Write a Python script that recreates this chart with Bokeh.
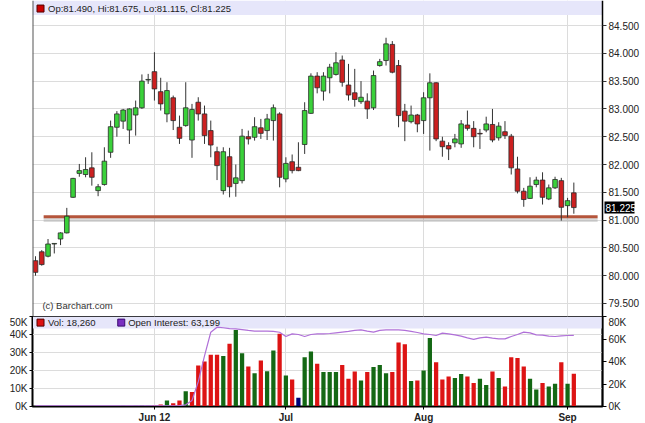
from bokeh.plotting import figure
from bokeh.models import (Range1d, LinearAxis, FixedTicker, PrintfTickFormatter,
                          Label, BoxAnnotation, ColumnDataSource, Span)
from bokeh.layouts import column
from bokeh.embed import file_html
from bokeh.resources import INLINE
from bokeh.core.properties import value

# ---------------- data ----------------
opens = [80.27, 80.43, 80.35, 80.57, 80.66, 80.77, 81.41, 81.84, 81.82, 81.94,
         81.53, 81.64, 82.22, 82.67, 82.78, 82.62, 82.89, 83.02, 83.52, 83.67,
         83.31, 82.91, 83.20, 82.67, 82.70, 82.44, 83.12, 82.91, 82.61, 82.23,
         81.53, 82.14, 81.66, 81.71, 82.50, 82.49, 82.66, 82.61, 82.79, 82.91,
         81.74, 82.05, 81.95, 82.36, 82.92, 83.59, 83.32, 83.56, 83.62, 83.88,
         83.43, 83.29, 83.13, 83.14, 83.02, 83.78, 83.87, 84.16, 83.78, 82.96,
         82.77, 82.89, 82.79, 83.20, 83.47, 82.42, 82.34, 82.39, 82.37, 82.71,
         82.65, 82.56, 82.62, 82.72, 82.48, 82.59, 82.51, 81.92, 81.52, 81.39,
         81.64, 81.72, 81.38, 81.58, 81.71, 81.26, 81.490]
highs = [80.35, 80.46, 80.66, 80.58, 80.78, 81.22, 81.76, 82.01, 82.13, 82.22,
         81.65, 82.31, 82.79, 82.96, 83.00, 83.01, 83.15, 83.62, 83.63, 84.02,
         83.56, 83.48, 83.24, 82.88, 83.48, 83.09, 83.21, 83.06, 82.79, 82.32,
         82.31, 82.30, 82.00, 82.64, 82.61, 82.85, 82.82, 82.91, 83.08, 82.94,
         82.13, 82.18, 82.40, 83.12, 83.64, 83.66, 83.66, 83.81, 84.02, 83.96,
         83.81, 83.72, 83.50, 83.28, 83.69, 83.90, 84.28, 84.22, 83.88, 83.09,
         83.06, 82.91, 83.30, 83.64, 83.48, 82.50, 82.40, 82.55, 82.80, 82.97,
         82.78, 82.64, 82.86, 83.00, 82.76, 82.78, 82.55, 82.14, 81.58, 81.77,
         81.78, 81.86, 81.64, 81.78, 81.76, 81.40, 81.675]
lows = [80.00, 80.18, 80.33, 80.40, 80.55, 80.76, 81.40, 81.78, 81.77, 81.62,
        81.43, 81.62, 82.12, 82.50, 82.64, 82.37, 82.52, 83.00, 83.45, 83.15,
        82.97, 82.76, 82.62, 82.37, 82.68, 82.12, 82.79, 82.37, 82.13, 81.72,
        81.46, 81.41, 81.42, 81.66, 82.36, 82.43, 82.46, 82.44, 82.43, 81.59,
        81.68, 81.84, 81.88, 82.19, 82.91, 83.28, 83.15, 83.28, 83.60, 83.40,
        83.15, 83.04, 83.09, 82.82, 82.98, 83.76, 83.78, 83.64, 82.67, 82.42,
        82.74, 82.58, 82.55, 82.25, 82.42, 82.14, 82.08, 82.31, 82.30, 82.61,
        82.31, 82.28, 82.58, 82.40, 82.43, 82.46, 81.82, 81.48, 81.24, 81.38,
        81.59, 81.28, 81.36, 81.56, 80.99, 81.05, 81.115]
closes = [80.06, 80.20, 80.57, 80.58, 80.77, 81.07, 81.75, 81.89, 81.91, 81.77,
          81.60, 82.06, 82.68, 82.91, 82.98, 83.00, 83.02, 83.50, 83.53, 83.36,
          83.09, 83.33, 82.79, 82.47, 83.02, 82.99, 82.91, 82.52, 82.35, 81.98,
          82.23, 81.60, 81.76, 82.51, 82.46, 82.68, 82.56, 82.82, 83.02, 81.77,
          82.02, 81.89, 81.89, 82.97, 83.59, 83.38, 83.59, 83.75, 83.83, 83.48,
          83.25, 83.17, 83.21, 83.00, 83.60, 83.85, 84.17, 83.66, 82.88, 82.78,
          82.89, 82.73, 83.20, 83.47, 82.46, 82.32, 82.28, 82.46, 82.73, 82.65,
          82.50, 82.55, 82.73, 82.44, 82.69, 82.52, 81.94, 81.52, 81.37, 81.61,
          81.72, 81.41, 81.58, 81.73, 81.23, 81.35, 81.225]
volume_k = [0, 0, 0, 0, 0, 0, 0, 0, 0, 0,
            0, 0, 0, 0.3, 0.4, 0.3, 0.4, 0.5, 0.4, 0.6,
            1.1, 3.3, 1.8, 3.3, 8.5, 8.0, 22.8, 25.0, 28.7, 28.7,
            28.0, 34.9, 42.5, 29.6, 22.2, 18.5, 25.6, 19.6, 31.1, 40.4,
            17.2, 15.0, 4.8, 27.4, 30.6, 23.7, 19.1, 19.1, 19.1, 23.1,
            15.4, 19.4, 14.4, 19.1, 21.9, 23.1, 18.5, 19.1, 35.6, 34.6,
            14.1, 14.4, 20.0, 38.0, 24.6, 15.0, 16.7, 15.9, 18.0, 16.7,
            13.1, 15.4, 12.0, 19.4, 15.9, 11.1, 27.4, 26.9, 22.2, 15.4,
            9.4, 13.1, 11.1, 12.6, 24.6, 12.6, 18.26]
open_interest_k = [0.5, 0.5, 0.5, 0.5, 0.5, 0.5, 0.5, 0.5, 0.5, 0.5,
                   0.5, 0.5, 0.5, 0.5, 0.5, 0.5, 0.5, 0.5, 0.5, 0.5,
                   0.5, 0.5, 0.5, 0.7, 1.5, 5.3, 22.0, 45.0, 66.0, 70.5,
                   70.0, 69.3, 69.0, 68.4, 67.6, 67.0, 67.0, 67.0, 66.7, 66.0,
                   62.2, 64.6, 64.0, 62.2, 64.0, 64.6, 64.6, 64.9, 65.5, 66.1,
                   66.7, 67.6, 68.1, 67.0, 66.1, 67.6, 68.1, 68.1, 68.1, 67.6,
                   66.7, 65.8, 64.6, 64.0, 63.1, 65.2, 64.6, 63.7, 62.5, 61.0,
                   59.6, 61.0, 61.6, 60.7, 60.1, 60.1, 62.2, 64.0, 66.1, 65.5,
                   63.7, 63.4, 62.5, 62.2, 62.8, 63.1, 63.199]

date_tick_index = [19, 40, 62, 85]
date_tick_labels = ["Jun 12", "Jul", "Aug", "Sep"]
price_ticks = [79.5, 80.0, 80.5, 81.0, 81.5, 82.0, 82.5, 83.0, 83.5, 84.0, 84.5]
vol_ticks = [0, 10, 20, 30, 40, 50]
oi_ticks = [0, 20, 40, 60, 80]
support_level = 81.06
support_from, support_to = 1.3, 89.8

# ---------------- styling ----------------
X_START, X_END = -0.48, 90.58
PRICE_MIN, PRICE_MAX = 79.266, 84.95
FRAME_LEFT, FRAME_W, FRAME_H = 32, 570, 316
AXIS_STRIP = 43                      # px of the price panel right of the plot area
PX_PER_BAR = FRAME_W / (X_END - X_START)
X_FRAME_END = X_END + AXIS_STRIP / PX_PER_BAR
FONT = "Liberation Sans"
GREEN, RED = "#3ad13a", "#cc2020"
VGREEN, VRED, VBLUE = "#146814", "#dd1414", "#000078"
LAVENDER = "#e6e6fa"
GRID = "#dcdcdc"

idx = list(range(len(closes)))
body_top = [max(o, c) for o, c in zip(opens, closes)]
body_bot = [min(o, c) for o, c in zip(opens, closes)]
body_col = [GREEN if c >= o else RED for o, c in zip(opens, closes)]
vcol = []
for i, c in enumerate(closes):
    prev = closes[i - 1] if i > 0 else c
    vcol.append(VGREEN if c > prev else (VRED if c < prev else VBLUE))

src = ColumnDataSource(dict(x=idx, o=opens, h=highs, l=lows, c=closes,
                            bt=body_top, bb=body_bot, col=body_col,
                            vol=volume_k, vcol=vcol, oi=open_interest_k))

# ---------------- price panel ----------------
p = figure(frame_width=FRAME_W + AXIS_STRIP, frame_height=FRAME_H,
           x_range=Range1d(X_START, X_FRAME_END),
           y_range=Range1d(PRICE_MIN, PRICE_MAX),
           x_axis_location=None, y_axis_location=None,
           output_backend="svg", toolbar_location=None,
           min_border_left=FRAME_LEFT, min_border_right=0, min_border_top=0, min_border_bottom=0)
p.outline_line_color = None
p.background_fill_color = "white"
p.border_fill_color = "white"
p.xgrid.ticker = FixedTicker(ticks=date_tick_index)
p.ygrid.ticker = FixedTicker(ticks=price_ticks)
p.xgrid.grid_line_color = GRID
p.ygrid.grid_line_color = GRID

band = BoxAnnotation(bottom=PRICE_MAX - 0.26, right=X_END, fill_color=LAVENDER, fill_alpha=1.0,
                     line_color=None, level="underlay")
p.add_layout(band)
strip = BoxAnnotation(left=X_END, fill_color="white", fill_alpha=1.0,
                      line_color=None, level="underlay")
p.add_layout(strip)
p.add_layout(Span(location=X_START, dimension="height", line_color="#555555", line_width=2))

# price axis pinned to the right edge of the plot area
yax = LinearAxis(ticker=FixedTicker(ticks=price_ticks),
                 formatter=PrintfTickFormatter(format="%.3f"),
                 fixed_location=X_END)
yax.major_tick_out = 4
yax.major_tick_in = 0
yax.minor_tick_out = 0
yax.minor_tick_in = 0
yax.major_label_standoff = 2
yax.axis_line_color = "black"
yax.axis_line_width = 1.5
yax.major_tick_line_color = "#333333"
yax.major_label_text_font = FONT
yax.major_label_text_font_size = "10px"
yax.major_label_text_color = "#222222"
p.add_layout(yax, "right")

# support line with a soft shadow
p.line([support_from, support_to], [support_level - 0.06, support_level - 0.06],
       line_color="#999999", line_alpha=0.35, line_width=4)
p.line([support_from, support_to], [support_level, support_level],
       line_color="#b5553b", line_width=3)

p.segment(x0="x", y0="l", x1="x", y1="h", source=src, line_color="#333333", line_width=1)
p.vbar(x="x", top="bt", bottom="bb", width=0.74, source=src,
       fill_color="col", line_color="#2a2a2a", line_width=0.8)

# last-price tag
tag_x = X_END + 2 / PX_PER_BAR
p.rect(x=[tag_x + 15 / PX_PER_BAR], y=[closes[-1]], width=30, height=12,
       width_units="screen", height_units="screen", fill_color="black", line_color=None)
p.text(x=[tag_x + 1 / PX_PER_BAR], y=[closes[-1]], text=[f"{closes[-1]:.3f}"],
       text_font=value(FONT), text_font_size="10px", text_color="white",
       text_baseline="middle", text_align="left")

p.scatter([0.8], [PRICE_MAX - 0.145], marker="square", size=7,
          fill_color="#cc0000", line_color="#550000")
p.add_layout(Label(x=2.0, y=PRICE_MAX - 0.145,
                   text=f"Op:{opens[-1]:.3f}, Hi:{highs[-1]:.3f}, Lo:{lows[-1]:.3f}, Cl:{closes[-1]:.3f}",
                   text_font=FONT, text_font_size="9.5px", text_color="#222222",
                   text_baseline="middle"))
p.add_layout(Label(x=1.1, y=PRICE_MIN + 0.2, text="(c) Barchart.com",
                   text_font=FONT, text_font_size="9.5px", text_color="#333333",
                   text_baseline="middle"))

# ---------------- volume panel ----------------
v = figure(frame_width=FRAME_W, frame_height=90, x_range=Range1d(X_START, X_END),
           y_range=Range1d(0, 50),
           output_backend="svg", toolbar_location=None,
           min_border_left=FRAME_LEFT, min_border_right=0, min_border_top=0, min_border_bottom=0)
v.extra_y_ranges = {"oi": Range1d(0, 80)}
v.outline_line_color = "black"
v.outline_line_width = 2
v.background_fill_color = "white"
v.border_fill_color = "white"
v.xgrid.ticker = FixedTicker(ticks=date_tick_index)
v.ygrid.ticker = FixedTicker(ticks=vol_ticks)
v.xgrid.grid_line_color = GRID
v.ygrid.grid_line_color = GRID

vband = BoxAnnotation(bottom=50 - 6.7, fill_color=LAVENDER, fill_alpha=1.0,
                      line_color=None, level="underlay")
v.add_layout(vband)

xa = v.xaxis[0]
xa.ticker = FixedTicker(ticks=date_tick_index)
xa.major_label_overrides = {t: s for t, s in zip(date_tick_index, date_tick_labels)}
xa.major_label_text_font = FONT
xa.major_label_text_font_size = "10px"
xa.major_label_text_font_style = "bold"
xa.major_label_text_color = "#222222"
xa.major_tick_out = 3
xa.major_tick_in = 0
xa.minor_tick_out = 0
xa.minor_tick_in = 0
xa.major_label_standoff = 2
xa.axis_line_color = "black"

ya = v.yaxis[0]
ya.ticker = FixedTicker(ticks=vol_ticks)
ya.formatter = PrintfTickFormatter(format="%dK")
ya.major_label_text_font = FONT
ya.major_label_text_font_size = "10px"
ya.major_label_text_color = "#222222"
ya.major_tick_out = 3
ya.major_tick_in = 0
ya.minor_tick_out = 0
ya.minor_tick_in = 0
ya.major_label_standoff = 2
ya.axis_line_color = "black"

ra = LinearAxis(y_range_name="oi", ticker=FixedTicker(ticks=oi_ticks),
                formatter=PrintfTickFormatter(format="%dK"))
ra.major_label_text_font = FONT
ra.major_label_text_font_size = "10px"
ra.major_label_text_color = "#222222"
ra.major_tick_out = 4
ra.major_tick_in = 0
ra.minor_tick_out = 0
ra.minor_tick_in = 0
ra.major_label_standoff = 2
ra.axis_line_color = "black"
ra.axis_line_width = 1.5
v.add_layout(ra, "right")

v.vbar(x="x", top="vol", width=0.68, source=src, fill_color="vcol", line_color=None)
v.line(x="x", y="oi", source=src, y_range_name="oi", line_color="#b070d8", line_width=1.2)

v.scatter([0.8], [46.6], marker="square", size=7, fill_color="#dd1111", line_color="#550000")
v.add_layout(Label(x=2.0, y=46.6, text=f"Vol: {volume_k[-1] * 1000:,.0f}",
                   text_font=FONT, text_font_size="9.5px", text_color="#222222",
                   text_baseline="middle"))
v.scatter([13.7], [46.6], marker="square", size=7, fill_color="#7a2fc0", line_color="#3a0a70")
v.add_layout(Label(x=14.8, y=46.6, text=f"Open Interest: {open_interest_k[-1] * 1000:,.0f}",
                   text_font=FONT, text_font_size="9.5px", text_color="#222222",
                   text_baseline="middle"))

layout = column(p, v, spacing=0)
open("out.html", "w").write(file_html(layout, INLINE))
